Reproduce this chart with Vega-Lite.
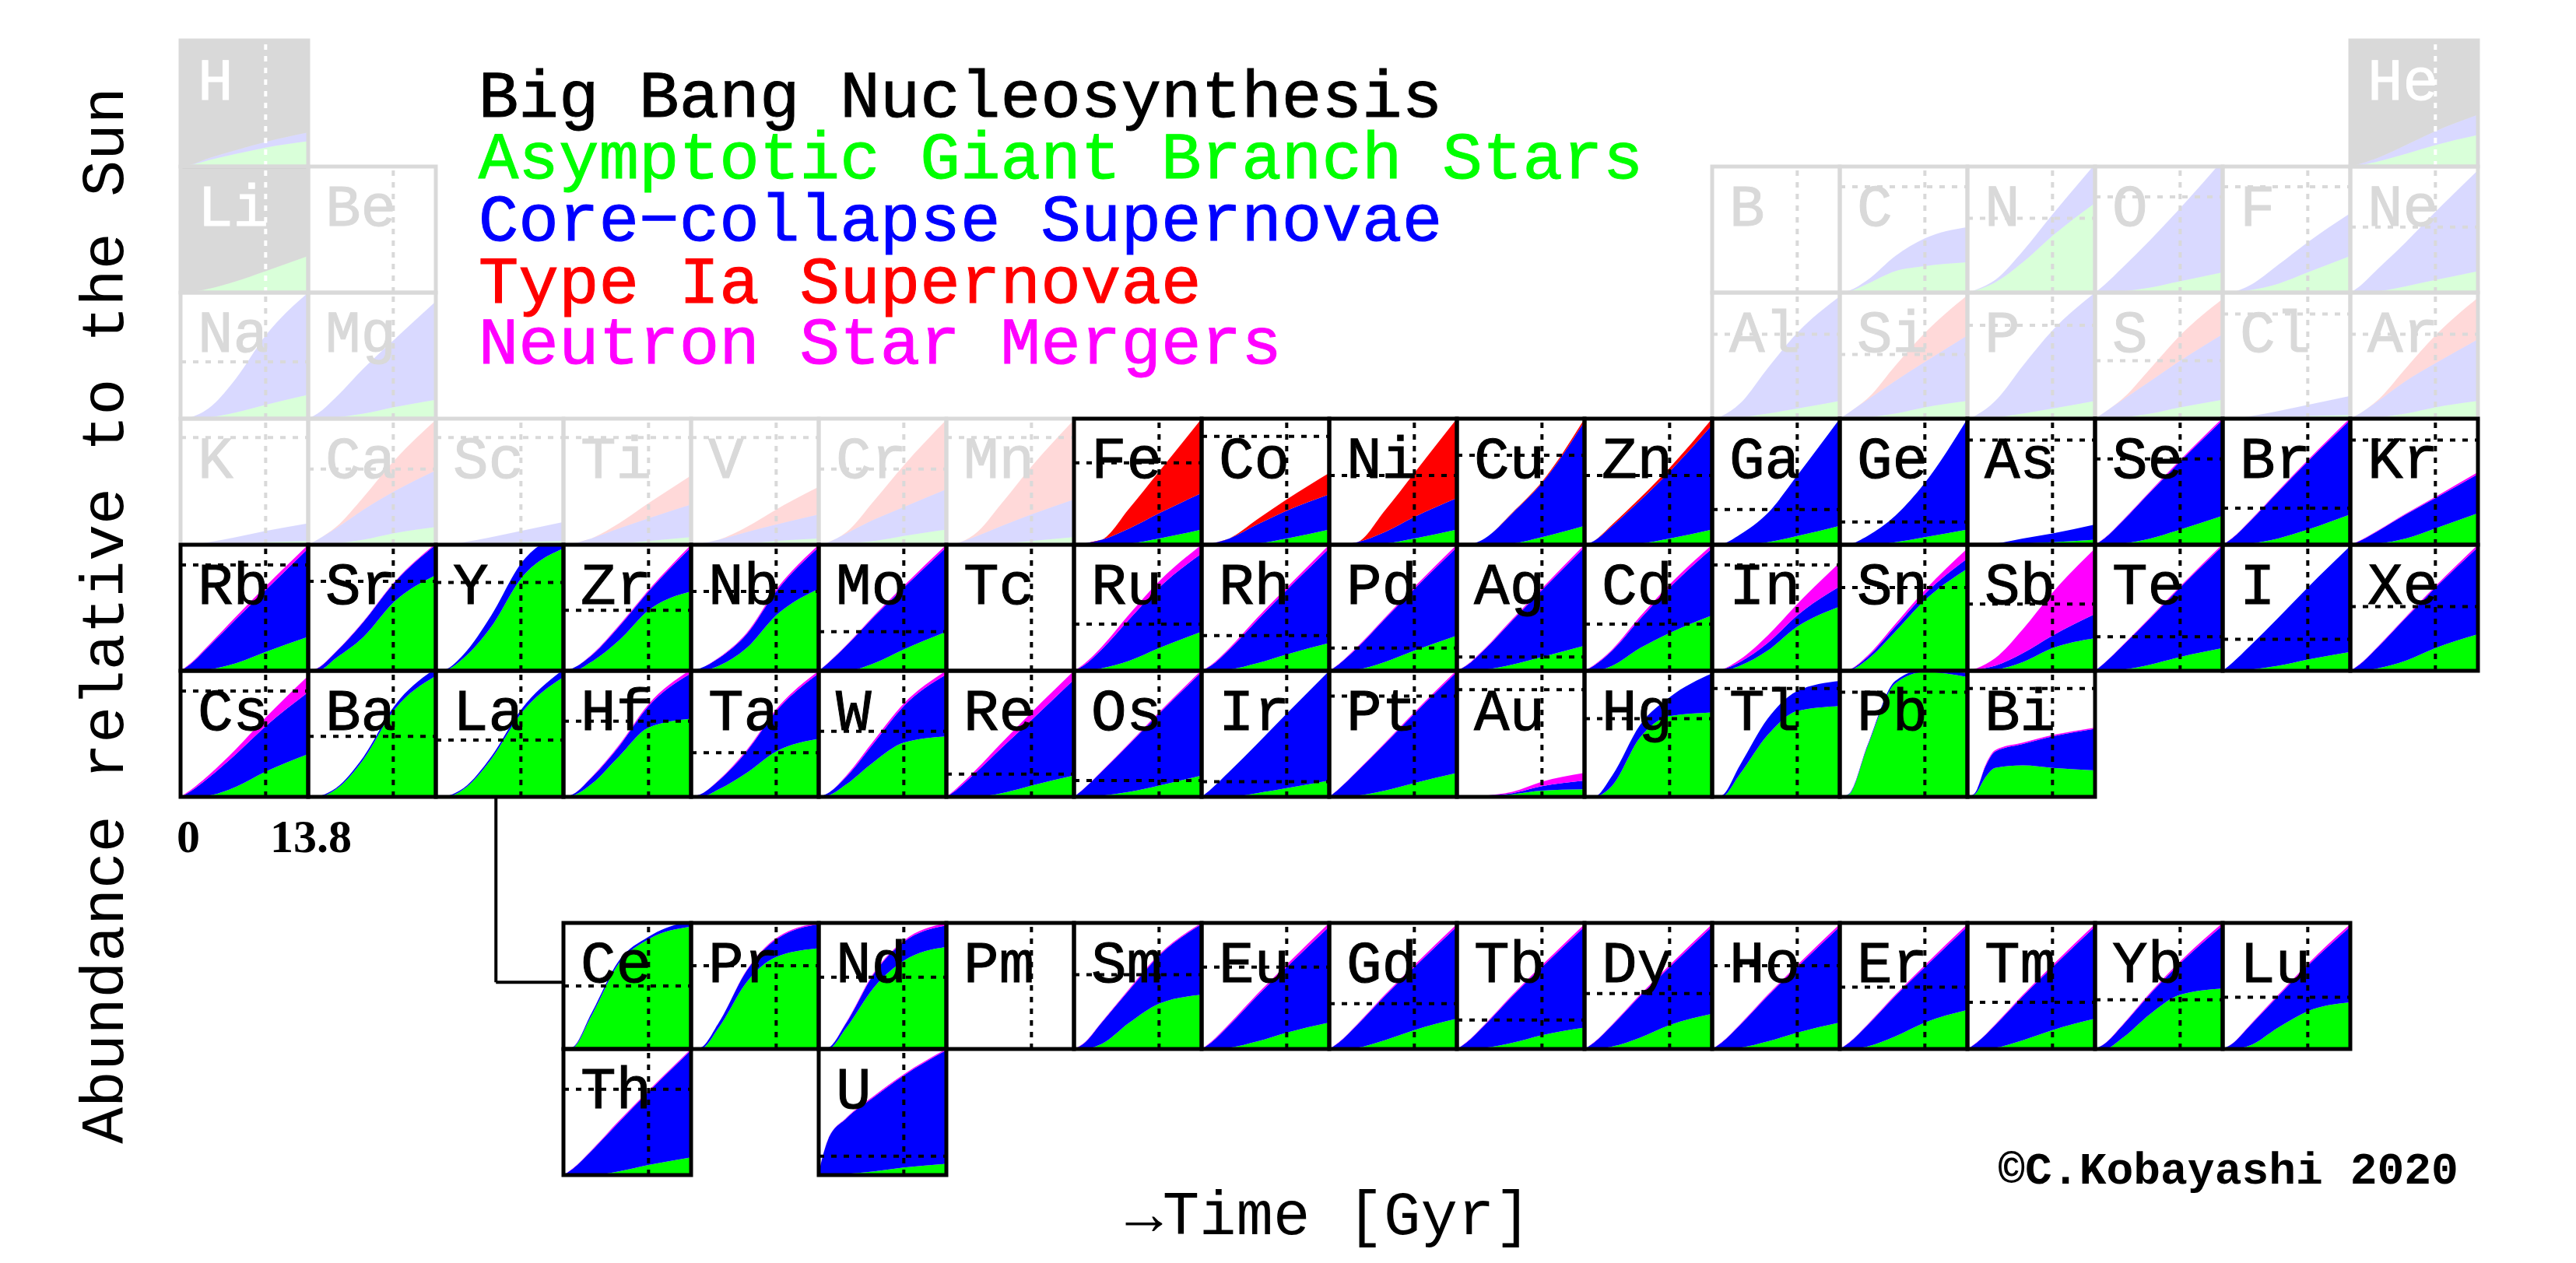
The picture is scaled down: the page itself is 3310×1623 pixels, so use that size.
{
  "$schema": "https://vega.github.io/schema/vega-lite/v6.json",
  "background": "white",
  "padding": {"left": 95, "top": 49, "right": 0, "bottom": 12},
  "bounds": "flush",
  "spacing": 0,
  "config": {"view": {"stroke": null}, "font": "Liberation Mono"},
  "data": {"values": [
    {"type":"cell","e":"H","g":1,"r":1,"k":"bbn","sun":null,"t":[0,1,3,6,9.2,13.8],"AGB":[0,0.01,0.05,0.1,0.15,0.2],"CCSN":[0,0.002,0.015,0.03,0.045,0.07],"Ia":[],"NSM":[],"bbn":[1,1,1,1,1,1]},
    {"type":"cell","e":"He","g":18,"r":1,"k":"bbn","sun":null,"t":[0,1,3,6,9.2,13.8],"AGB":[0,0.01,0.04,0.1,0.17,0.25],"CCSN":[0,0.01,0.03,0.07,0.11,0.16],"Ia":[],"NSM":[],"bbn":[1,1,1,1,1,1]},
    {"type":"cell","e":"Li","g":1,"r":2,"k":"bbn","sun":null,"t":[0,1,3,6,9.2,13.8],"AGB":[0,0.005,0.03,0.09,0.17,0.29],"CCSN":[],"Ia":[],"NSM":[],"bbn":[1,1,1,1,1,1]},
    {"type":"cell","e":"Be","g":2,"r":2,"k":"faded","sun":null,"t":[0,1,3,6,9.2,13.8],"AGB":[],"CCSN":[],"Ia":[],"NSM":[],"bbn":[]},
    {"type":"cell","e":"B","g":13,"r":2,"k":"faded","sun":null,"t":[0,1,3,6,9.2,13.8],"AGB":[],"CCSN":[],"Ia":[],"NSM":[],"bbn":[]},
    {"type":"cell","e":"C","g":14,"r":2,"k":"faded","sun":0.84,"t":[0,1,3,6,9.2,13.8],"AGB":[0,0.01,0.07,0.17,0.21,0.24],"CCSN":[0,0.005,0.03,0.12,0.22,0.28],"Ia":[],"NSM":[],"bbn":[]},
    {"type":"cell","e":"N","g":15,"r":2,"k":"faded","sun":0.59,"t":[0,1,3,6,9.2,13.8],"AGB":[0,0.02,0.08,0.24,0.45,0.71],"CCSN":[0,0.005,0.02,0.09,0.17,0.31],"Ia":[],"NSM":[],"bbn":[]},
    {"type":"cell","e":"O","g":16,"r":2,"k":"faded","sun":0.76,"t":[0,1,3,6,9.2,13.8],"AGB":[0,0,0.01,0.04,0.09,0.16],"CCSN":[0,0.06,0.19,0.38,0.58,0.89],"Ia":[],"NSM":[],"bbn":[]},
    {"type":"cell","e":"F","g":17,"r":2,"k":"faded","sun":0.84,"t":[0,1,3,6,9.2,13.8],"AGB":[0,0,0.02,0.07,0.16,0.29],"CCSN":[0,0.005,0.04,0.15,0.24,0.34],"Ia":[],"NSM":[],"bbn":[]},
    {"type":"cell","e":"Ne","g":18,"r":2,"k":"faded","sun":0.52,"t":[0,1,3,6,9.2,13.8],"AGB":[0,0,0.01,0.05,0.1,0.17],"CCSN":[0,0.05,0.18,0.35,0.54,0.8],"Ia":[],"NSM":[],"bbn":[]},
    {"type":"cell","e":"Na","g":1,"r":3,"k":"faded","sun":0.45,"t":[0,1,3,6,9.2,13.8],"AGB":[0,0,0.01,0.05,0.11,0.19],"CCSN":[0,0.01,0.07,0.27,0.55,0.81],"Ia":[],"NSM":[],"bbn":[]},
    {"type":"cell","e":"Mg","g":2,"r":3,"k":"faded","sun":null,"t":[0,1,3,6,9.2,13.8],"AGB":[0,0,0.01,0.04,0.09,0.15],"CCSN":[0,0.04,0.16,0.36,0.53,0.78],"Ia":[],"NSM":[],"bbn":[]},
    {"type":"cell","e":"Al","g":13,"r":3,"k":"faded","sun":0.67,"t":[0,1,3,6,9.2,13.8],"AGB":[0,0,0.01,0.04,0.08,0.14],"CCSN":[0,0.02,0.11,0.36,0.6,0.83],"Ia":[],"NSM":[],"bbn":[]},
    {"type":"cell","e":"Si","g":14,"r":3,"k":"faded","sun":0.51,"t":[0,1,3,6,9.2,13.8],"AGB":[0,0,0.01,0.04,0.09,0.14],"CCSN":[0,0.05,0.14,0.26,0.36,0.52],"Ia":[0,0,0.01,0.12,0.23,0.32],"NSM":[],"bbn":[]},
    {"type":"cell","e":"P","g":15,"r":3,"k":"faded","sun":0.74,"t":[0,1,3,6,9.2,13.8],"AGB":[0,0,0.01,0.04,0.08,0.14],"CCSN":[0,0.03,0.13,0.38,0.62,0.86],"Ia":[],"NSM":[],"bbn":[]},
    {"type":"cell","e":"S","g":16,"r":3,"k":"faded","sun":0.46,"t":[0,1,3,6,9.2,13.8],"AGB":[0,0,0.01,0.04,0.09,0.15],"CCSN":[0,0.05,0.14,0.26,0.37,0.52],"Ia":[0,0,0.01,0.1,0.2,0.28],"NSM":[],"bbn":[]},
    {"type":"cell","e":"Cl","g":17,"r":3,"k":"faded","sun":0.83,"t":[0,1,3,6,9.2,13.8],"AGB":[0,0,0,0.01,0.02,0.03],"CCSN":[0,0,0.02,0.05,0.09,0.15],"Ia":[],"NSM":[],"bbn":[]},
    {"type":"cell","e":"Ar","g":18,"r":3,"k":"faded","sun":0.67,"t":[0,1,3,6,9.2,13.8],"AGB":[0,0,0.01,0.04,0.09,0.14],"CCSN":[0,0.04,0.13,0.26,0.35,0.49],"Ia":[0,0,0.01,0.1,0.22,0.33],"NSM":[],"bbn":[]},
    {"type":"cell","e":"K","g":1,"r":4,"k":"faded","sun":0.85,"t":[0,1,3,6,9.2,13.8],"AGB":[0,0,0,0.01,0.02,0.03],"CCSN":[0,0,0.02,0.05,0.09,0.14],"Ia":[],"NSM":[],"bbn":[]},
    {"type":"cell","e":"Ca","g":2,"r":4,"k":"faded","sun":0.6,"t":[0,1,3,6,9.2,13.8],"AGB":[0,0,0.01,0.04,0.09,0.14],"CCSN":[0,0.04,0.12,0.24,0.33,0.45],"Ia":[0,0,0.01,0.1,0.24,0.4],"NSM":[],"bbn":[]},
    {"type":"cell","e":"Sc","g":3,"r":4,"k":"faded","sun":0.85,"t":[0,1,3,6,9.2,13.8],"AGB":[0,0,0,0.01,0.02,0.03],"CCSN":[0,0,0.02,0.05,0.09,0.15],"Ia":[],"NSM":[],"bbn":[]},
    {"type":"cell","e":"Ti","g":4,"r":4,"k":"faded","sun":0.85,"t":[0,1,3,6,9.2,13.8],"AGB":[0,0,0,0.01,0.03,0.06],"CCSN":[0,0.01,0.05,0.12,0.18,0.26],"Ia":[0,0,0,0.04,0.12,0.23],"NSM":[],"bbn":[]},
    {"type":"cell","e":"V","g":5,"r":4,"k":"faded","sun":0.85,"t":[0,1,3,6,9.2,13.8],"AGB":[0,0,0,0.01,0.03,0.05],"CCSN":[0,0.01,0.04,0.09,0.13,0.19],"Ia":[0,0,0,0.04,0.12,0.22],"NSM":[],"bbn":[]},
    {"type":"cell","e":"Cr","g":6,"r":4,"k":"faded","sun":0.6,"t":[0,1,3,6,9.2,13.8],"AGB":[0,0,0.01,0.03,0.07,0.12],"CCSN":[0,0.02,0.08,0.17,0.23,0.32],"Ia":[0,0,0.01,0.15,0.33,0.55],"NSM":[],"bbn":[]},
    {"type":"cell","e":"Mn","g":7,"r":4,"k":"faded","sun":0.85,"t":[0,1,3,6,9.2,13.8],"AGB":[0,0,0,0.01,0.03,0.06],"CCSN":[0,0.01,0.06,0.14,0.21,0.3],"Ia":[0,0,0.02,0.18,0.38,0.63],"NSM":[],"bbn":[]},
    {"type":"cell","e":"Fe","g":8,"r":4,"k":"main","sun":0.65,"t":[0,1,3,6,9.2,13.8],"AGB":[0,0,0,0.01,0.05,0.12],"CCSN":[0,0.01,0.04,0.12,0.2,0.29],"Ia":[0,0,0,0.16,0.33,0.59],"NSM":[],"bbn":[]},
    {"type":"cell","e":"Co","g":9,"r":4,"k":"main","sun":0.86,"t":[0,1,3,6,9.2,13.8],"AGB":[0,0,0,0.01,0.05,0.12],"CCSN":[0,0.01,0.05,0.15,0.22,0.28],"Ia":[0,0,0,0.04,0.09,0.17],"NSM":[],"bbn":[]},
    {"type":"cell","e":"Ni","g":10,"r":4,"k":"main","sun":0.55,"t":[0,1,3,6,9.2,13.8],"AGB":[0,0,0,0.01,0.05,0.12],"CCSN":[0,0,0.02,0.09,0.17,0.25],"Ia":[0,0,0,0.17,0.35,0.63],"NSM":[],"bbn":[]},
    {"type":"cell","e":"Cu","g":11,"r":4,"k":"main","sun":0.71,"t":[0,1,3,6,9.2,13.8],"AGB":[0,0,0,0.01,0.06,0.15],"CCSN":[0,0,0.05,0.24,0.43,0.83],"Ia":[0,0,0,0.005,0.01,0.02],"NSM":[],"bbn":[]},
    {"type":"cell","e":"Zn","g":12,"r":4,"k":"main","sun":0.55,"t":[0,1,3,6,9.2,13.8],"AGB":[0,0,0,0.01,0.05,0.12],"CCSN":[0,0.03,0.15,0.34,0.53,0.83],"Ia":[0,0,0.01,0.02,0.03,0.05],"NSM":[],"bbn":[]},
    {"type":"cell","e":"Ga","g":13,"r":4,"k":"main","sun":0.28,"t":[0,1,3,6,9.2,13.8],"AGB":[0,0,0,0.02,0.07,0.15],"CCSN":[0,0.005,0.08,0.23,0.48,0.85],"Ia":[],"NSM":[],"bbn":[]},
    {"type":"cell","e":"Ge","g":14,"r":4,"k":"main","sun":0.18,"t":[0,1,3,6,9.2,13.8],"AGB":[0,0,0,0.02,0.06,0.12],"CCSN":[0,0.005,0.07,0.21,0.43,0.88],"Ia":[],"NSM":[],"bbn":[]},
    {"type":"cell","e":"As","g":15,"r":4,"k":"main","sun":0.83,"t":[0,1,3,6,9.2,13.8],"AGB":[0,0,0,0.01,0.02,0.04],"CCSN":[0,0,0.01,0.04,0.07,0.12],"Ia":[],"NSM":[],"bbn":[]},
    {"type":"cell","e":"Se","g":16,"r":4,"k":"main","sun":0.68,"t":[0,1,3,6,9.2,13.8],"AGB":[0,0,0.01,0.05,0.12,0.23],"CCSN":[0,0.05,0.18,0.37,0.54,0.76],"Ia":[],"NSM":[0,0.002,0.005,0.008,0.012,0.015],"bbn":[]},
    {"type":"cell","e":"Br","g":17,"r":4,"k":"main","sun":0.29,"t":[0,1,3,6,9.2,13.8],"AGB":[0,0,0.01,0.05,0.12,0.24],"CCSN":[0,0.05,0.18,0.37,0.54,0.75],"Ia":[],"NSM":[0,0.002,0.005,0.008,0.012,0.015],"bbn":[]},
    {"type":"cell","e":"Kr","g":18,"r":4,"k":"main","sun":0.83,"t":[0,1,3,6,9.2,13.8],"AGB":[0,0,0.01,0.05,0.13,0.25],"CCSN":[0,0.03,0.1,0.19,0.24,0.31],"Ia":[],"NSM":[0,0.002,0.004,0.007,0.01,0.015],"bbn":[]},
    {"type":"cell","e":"Rb","g":1,"r":5,"k":"main","sun":0.84,"t":[0,1,3,6,9.2,13.8],"AGB":[0,0,0.01,0.06,0.15,0.27],"CCSN":[0,0.05,0.18,0.35,0.49,0.7],"Ia":[],"NSM":[0,0.005,0.01,0.02,0.03,0.03],"bbn":[]},
    {"type":"cell","e":"Sr","g":2,"r":5,"k":"main","sun":0.71,"t":[0,1,3,6,9.2,13.8],"AGB":[0,0,0.1,0.27,0.54,0.76],"CCSN":[0,0.02,0.05,0.12,0.15,0.24],"Ia":[],"NSM":[0,0.002,0.003,0.005,0.005,0.01],"bbn":[]},
    {"type":"cell","e":"Y","g":3,"r":5,"k":"main","sun":0.7,"t":[0,1,3,6,9.2,13.8],"AGB":[0,0.005,0.1,0.35,0.73,0.97],"CCSN":[0,0.005,0.03,0.09,0.12,0.12],"Ia":[],"NSM":[],"bbn":[]},
    {"type":"cell","e":"Zr","g":4,"r":5,"k":"main","sun":0.48,"t":[0,1,3,6,9.2,13.8],"AGB":[0,0,0.07,0.24,0.48,0.63],"CCSN":[0,0.02,0.05,0.11,0.15,0.35],"Ia":[],"NSM":[0,0,0.005,0.01,0.01,0.02],"bbn":[]},
    {"type":"cell","e":"Nb","g":5,"r":5,"k":"main","sun":0.63,"t":[0,1,3,6,9.2,13.8],"AGB":[0,0,0.04,0.18,0.44,0.65],"CCSN":[0,0.02,0.06,0.11,0.19,0.33],"Ia":[],"NSM":[0,0,0.005,0.01,0.015,0.02],"bbn":[]},
    {"type":"cell","e":"Mo","g":6,"r":5,"k":"main","sun":0.31,"t":[0,1,3,6,9.2,13.8],"AGB":[0,0,0,0.06,0.17,0.31],"CCSN":[0,0.06,0.2,0.37,0.49,0.67],"Ia":[],"NSM":[0,0.003,0.005,0.01,0.015,0.02],"bbn":[]},
    {"type":"cell","e":"Tc","g":7,"r":5,"k":"main","sun":null,"t":[0,1,3,6,9.2,13.8],"AGB":[],"CCSN":[],"Ia":[],"NSM":[],"bbn":[]},
    {"type":"cell","e":"Ru","g":8,"r":5,"k":"main","sun":0.37,"t":[0,1,3,6,9.2,13.8],"AGB":[0,0,0.02,0.08,0.18,0.31],"CCSN":[0,0.04,0.15,0.33,0.48,0.62],"Ia":[],"NSM":[0,0.01,0.02,0.04,0.05,0.07],"bbn":[]},
    {"type":"cell","e":"Rh","g":9,"r":5,"k":"main","sun":0.28,"t":[0,1,3,6,9.2,13.8],"AGB":[0,0,0.01,0.06,0.13,0.22],"CCSN":[0,0.04,0.16,0.34,0.51,0.75],"Ia":[],"NSM":[0,0.005,0.01,0.02,0.02,0.03],"bbn":[]},
    {"type":"cell","e":"Pd","g":10,"r":5,"k":"main","sun":0.18,"t":[0,1,3,6,9.2,13.8],"AGB":[0,0,0.01,0.07,0.16,0.28],"CCSN":[0,0.05,0.17,0.34,0.49,0.7],"Ia":[],"NSM":[0,0.003,0.008,0.01,0.015,0.02],"bbn":[]},
    {"type":"cell","e":"Ag","g":11,"r":5,"k":"main","sun":0.11,"t":[0,1,3,6,9.2,13.8],"AGB":[0,0,0.01,0.05,0.11,0.2],"CCSN":[0,0.04,0.16,0.35,0.53,0.78],"Ia":[],"NSM":[0,0.003,0.006,0.01,0.015,0.02],"bbn":[]},
    {"type":"cell","e":"Cd","g":12,"r":5,"k":"main","sun":0.37,"t":[0,1,3,6,9.2,13.8],"AGB":[0,0,0.04,0.18,0.3,0.44],"CCSN":[0,0.04,0.12,0.23,0.36,0.53],"Ia":[],"NSM":[0,0.005,0.01,0.02,0.025,0.03],"bbn":[]},
    {"type":"cell","e":"In","g":13,"r":5,"k":"main","sun":0.84,"t":[0,1,3,6,9.2,13.8],"AGB":[0,0,0.04,0.16,0.35,0.51],"CCSN":[0,0.01,0.03,0.06,0.09,0.16],"Ia":[],"NSM":[0,0,0.02,0.06,0.09,0.19],"bbn":[]},
    {"type":"cell","e":"Sn","g":14,"r":5,"k":"main","sun":0.66,"t":[0,1,3,6,9.2,13.8],"AGB":[0,0.005,0.09,0.31,0.56,0.81],"CCSN":[0,0.005,0.02,0.04,0.05,0.08],"Ia":[],"NSM":[0,0,0.01,0.02,0.03,0.08],"bbn":[]},
    {"type":"cell","e":"Sb","g":15,"r":5,"k":"main","sun":0.53,"t":[0,1,3,6,9.2,13.8],"AGB":[0,0,0.01,0.07,0.18,0.26],"CCSN":[0,0.01,0.03,0.07,0.1,0.19],"Ia":[],"NSM":[0,0.01,0.06,0.19,0.34,0.52],"bbn":[]},
    {"type":"cell","e":"Te","g":16,"r":5,"k":"main","sun":0.27,"t":[0,1,3,6,9.2,13.8],"AGB":[0,0,0.01,0.05,0.11,0.18],"CCSN":[0,0.06,0.19,0.37,0.55,0.81],"Ia":[],"NSM":[0,0.002,0.005,0.008,0.01,0.015],"bbn":[]},
    {"type":"cell","e":"I","g":17,"r":5,"k":"main","sun":0.25,"t":[0,1,3,6,9.2,13.8],"AGB":[0,0,0.01,0.04,0.09,0.15],"CCSN":[0,0.06,0.19,0.38,0.57,0.84],"Ia":[],"NSM":[],"bbn":[]},
    {"type":"cell","e":"Xe","g":18,"r":5,"k":"main","sun":0.51,"t":[0,1,3,6,9.2,13.8],"AGB":[0,0,0.02,0.08,0.18,0.29],"CCSN":[0,0.05,0.17,0.34,0.48,0.69],"Ia":[],"NSM":[0,0.002,0.005,0.008,0.012,0.02],"bbn":[]},
    {"type":"cell","e":"Cs","g":1,"r":6,"k":"main","sun":0.84,"t":[0,1,3,6,9.2,13.8],"AGB":[0,0,0.01,0.08,0.2,0.34],"CCSN":[0,0.04,0.14,0.26,0.36,0.49],"Ia":[],"NSM":[0,0.01,0.02,0.04,0.07,0.13],"bbn":[]},
    {"type":"cell","e":"Ba","g":2,"r":6,"k":"main","sun":0.48,"t":[0,1,3,6,9.2,13.8],"AGB":[0,0,0.06,0.3,0.68,0.96],"CCSN":[0,0.005,0.01,0.02,0.03,0.06],"Ia":[],"NSM":[],"bbn":[]},
    {"type":"cell","e":"La","g":3,"r":6,"k":"main","sun":0.45,"t":[0,1,3,6,9.2,13.8],"AGB":[0,0,0.06,0.3,0.66,0.95],"CCSN":[0,0.005,0.01,0.02,0.03,0.06],"Ia":[],"NSM":[],"bbn":[]},
    {"type":"cell","e":"Hf","g":4,"r":6,"k":"main","sun":0.6,"t":[0,1,3,6,9.2,13.8],"AGB":[0,0.01,0.1,0.32,0.55,0.62],"CCSN":[0,0.01,0.05,0.08,0.17,0.36],"Ia":[],"NSM":[0,0,0.005,0.01,0.015,0.03],"bbn":[]},
    {"type":"cell","e":"Ta","g":5,"r":6,"k":"main","sun":0.35,"t":[0,1,3,6,9.2,13.8],"AGB":[0,0,0.06,0.19,0.36,0.46],"CCSN":[0,0.02,0.07,0.17,0.32,0.52],"Ia":[],"NSM":[0,0,0.005,0.01,0.015,0.02],"bbn":[]},
    {"type":"cell","e":"W","g":6,"r":6,"k":"main","sun":0.52,"t":[0,1,3,6,9.2,13.8],"AGB":[0,0.01,0.1,0.28,0.43,0.48],"CCSN":[0,0.02,0.06,0.15,0.29,0.49],"Ia":[],"NSM":[0,0,0.01,0.02,0.02,0.03],"bbn":[]},
    {"type":"cell","e":"Re","g":7,"r":6,"k":"main","sun":0.18,"t":[0,1,3,6,9.2,13.8],"AGB":[0,0,0,0.03,0.09,0.17],"CCSN":[0,0.05,0.18,0.36,0.52,0.76],"Ia":[],"NSM":[0,0.01,0.02,0.04,0.06,0.07],"bbn":[]},
    {"type":"cell","e":"Os","g":8,"r":6,"k":"main","sun":0.13,"t":[0,1,3,6,9.2,13.8],"AGB":[0,0,0.01,0.04,0.09,0.17],"CCSN":[0,0.06,0.19,0.38,0.57,0.82],"Ia":[],"NSM":[0,0.002,0.005,0.008,0.012,0.015],"bbn":[]},
    {"type":"cell","e":"Ir","g":9,"r":6,"k":"main","sun":0.12,"t":[0,1,3,6,9.2,13.8],"AGB":[0,0,0,0.03,0.07,0.13],"CCSN":[0,0.06,0.2,0.39,0.59,0.87],"Ia":[],"NSM":[],"bbn":[]},
    {"type":"cell","e":"Pt","g":10,"r":6,"k":"main","sun":0.8,"t":[0,1,3,6,9.2,13.8],"AGB":[0,0,0.01,0.05,0.11,0.19],"CCSN":[0,0.06,0.19,0.37,0.55,0.8],"Ia":[],"NSM":[0,0.002,0.005,0.008,0.012,0.015],"bbn":[]},
    {"type":"cell","e":"Au","g":11,"r":6,"k":"main","sun":0.85,"t":[0,1,3,6,9.2,13.8],"AGB":[0,0,0,0.02,0.05,0.06],"CCSN":[0,0,0.01,0.01,0.035,0.07],"Ia":[],"NSM":[0,0,0,0.01,0.035,0.06],"bbn":[]},
    {"type":"cell","e":"Hg","g":12,"r":6,"k":"main","sun":0.62,"t":[0,1,3,6,9.2,13.8],"AGB":[0,0,0.09,0.47,0.64,0.67],"CCSN":[0,0,0.08,0.1,0.15,0.31],"Ia":[],"NSM":[],"bbn":[]},
    {"type":"cell","e":"Tl","g":13,"r":6,"k":"main","sun":0.86,"t":[0,1,3,6,9.2,13.8],"AGB":[0,0,0.18,0.49,0.68,0.72],"CCSN":[0,0.01,0.07,0.13,0.16,0.2],"Ia":[],"NSM":[],"bbn":[]},
    {"type":"cell","e":"Pb","g":14,"r":6,"k":"main","sun":0.83,"t":[0,1,3,6,9.2,13.8],"AGB":[0,0.02,0.4,0.9,0.99,0.95],"CCSN":[0,0.005,0.01,0.02,0.02,0.03],"Ia":[],"NSM":[],"bbn":[]},
    {"type":"cell","e":"Bi","g":15,"r":6,"k":"main","sun":0.86,"t":[0,0.8,2,3,6,9.2,13.8],"AGB":[0,0.02,0.16,0.23,0.25,0.23,0.21],"CCSN":[0,0.01,0.09,0.13,0.17,0.25,0.33],"Ia":[],"NSM":[0,0,0.01,0.01,0.01,0.01,0.01],"bbn":[]},
    {"type":"cell","e":"Ce","g":4,"r":8,"k":"main","sun":0.5,"t":[0,1,3,6,9.2,13.8],"AGB":[0,0.01,0.26,0.68,0.87,0.97],"CCSN":[0,0.005,0.02,0.02,0.02,0.05],"Ia":[],"NSM":[],"bbn":[]},
    {"type":"cell","e":"Pr","g":5,"r":8,"k":"main","sun":0.66,"t":[0,1,3,6,9.2,13.8],"AGB":[0,0,0.17,0.53,0.73,0.8],"CCSN":[0,0.01,0.04,0.09,0.14,0.19],"Ia":[],"NSM":[0,0,0,0.005,0.01,0.01],"bbn":[]},
    {"type":"cell","e":"Nd","g":6,"r":8,"k":"main","sun":0.57,"t":[0,1,3,6,9.2,13.8],"AGB":[0,0,0.17,0.49,0.7,0.81],"CCSN":[0,0.01,0.04,0.11,0.15,0.17],"Ia":[],"NSM":[0,0,0.005,0.01,0.01,0.02],"bbn":[]},
    {"type":"cell","e":"Pm","g":7,"r":8,"k":"main","sun":null,"t":[0,1,3,6,9.2,13.8],"AGB":[],"CCSN":[],"Ia":[],"NSM":[],"bbn":[]},
    {"type":"cell","e":"Sm","g":8,"r":8,"k":"main","sun":0.59,"t":[0,1,3,6,9.2,13.8],"AGB":[0,0,0.04,0.21,0.36,0.43],"CCSN":[0,0.04,0.17,0.26,0.38,0.56],"Ia":[],"NSM":[0,0.003,0.005,0.01,0.01,0.01],"bbn":[]},
    {"type":"cell","e":"Eu","g":9,"r":8,"k":"main","sun":0.65,"t":[0,1,3,6,9.2,13.8],"AGB":[0,0,0.01,0.06,0.13,0.21],"CCSN":[0,0.05,0.18,0.36,0.52,0.76],"Ia":[],"NSM":[0,0.005,0.01,0.015,0.02,0.03],"bbn":[]},
    {"type":"cell","e":"Gd","g":10,"r":8,"k":"main","sun":0.36,"t":[0,1,3,6,9.2,13.8],"AGB":[0,0,0.01,0.07,0.15,0.24],"CCSN":[0,0.05,0.18,0.35,0.5,0.73],"Ia":[],"NSM":[0,0.002,0.005,0.01,0.015,0.02],"bbn":[]},
    {"type":"cell","e":"Tb","g":11,"r":8,"k":"main","sun":0.23,"t":[0,1,3,6,9.2,13.8],"AGB":[0,0,0.01,0.05,0.11,0.17],"CCSN":[0,0.05,0.18,0.37,0.54,0.8],"Ia":[],"NSM":[0,0.002,0.005,0.01,0.015,0.02],"bbn":[]},
    {"type":"cell","e":"Dy","g":12,"r":8,"k":"main","sun":0.44,"t":[0,1,3,6,9.2,13.8],"AGB":[0,0,0.02,0.09,0.19,0.28],"CCSN":[0,0.05,0.17,0.33,0.46,0.69],"Ia":[],"NSM":[0,0.002,0.005,0.01,0.015,0.02],"bbn":[]},
    {"type":"cell","e":"Ho","g":13,"r":8,"k":"main","sun":0.66,"t":[0,1,3,6,9.2,13.8],"AGB":[0,0,0.01,0.06,0.13,0.21],"CCSN":[0,0.05,0.18,0.36,0.52,0.76],"Ia":[],"NSM":[0,0.002,0.005,0.01,0.015,0.02],"bbn":[]},
    {"type":"cell","e":"Er","g":14,"r":8,"k":"main","sun":0.49,"t":[0,1,3,6,9.2,13.8],"AGB":[0,0,0.02,0.1,0.21,0.31],"CCSN":[0,0.05,0.17,0.32,0.44,0.66],"Ia":[],"NSM":[0,0.002,0.005,0.01,0.015,0.02],"bbn":[]},
    {"type":"cell","e":"Tm","g":15,"r":8,"k":"main","sun":0.37,"t":[0,1,3,6,9.2,13.8],"AGB":[0,0,0.01,0.07,0.15,0.24],"CCSN":[0,0.05,0.18,0.35,0.5,0.73],"Ia":[],"NSM":[0,0.002,0.005,0.01,0.015,0.02],"bbn":[]},
    {"type":"cell","e":"Yb","g":16,"r":8,"k":"main","sun":0.39,"t":[0,1,3,6,9.2,13.8],"AGB":[0,0,0.09,0.28,0.43,0.48],"CCSN":[0,0.04,0.1,0.16,0.25,0.5],"Ia":[],"NSM":[0,0.002,0.005,0.01,0.015,0.02],"bbn":[]},
    {"type":"cell","e":"Lu","g":17,"r":8,"k":"main","sun":0.41,"t":[0,1,3,6,9.2,13.8],"AGB":[0,0,0.03,0.17,0.3,0.37],"CCSN":[0,0.04,0.16,0.25,0.36,0.6],"Ia":[],"NSM":[0,0.002,0.005,0.01,0.015,0.02],"bbn":[]},
    {"type":"cell","e":"Th","g":4,"r":9,"k":"main","sun":0.68,"t":[0,1,3,6,9.2,13.8],"AGB":[0,0,0,0.03,0.08,0.14],"CCSN":[0,0.05,0.19,0.39,0.58,0.85],"Ia":[],"NSM":[0,0.002,0.005,0.01,0.01,0.01],"bbn":[]},
    {"type":"cell","e":"U","g":6,"r":9,"k":"main","sun":0.15,"t":[0,1,3,6,9.2,13.8],"AGB":[0,0,0.01,0.03,0.06,0.09],"CCSN":[0.02,0.28,0.44,0.59,0.73,0.9],"Ia":[],"NSM":[0,0.002,0.005,0.01,0.01,0.01],"bbn":[]},
    {"type":"key","g":3,"r":1,"c":"bbn","text":"Big Bang Nucleosynthesis","x":4.6,"y":0.395,"t":[0],"AGB":[],"CCSN":[],"Ia":[],"NSM":[],"bbn":[]},
    {"type":"key","g":3,"r":1,"c":"AGB","text":"Asymptotic Giant Branch Stars","x":4.6,"y":-0.093,"t":[0],"AGB":[],"CCSN":[],"Ia":[],"NSM":[],"bbn":[]},
    {"type":"key","g":3,"r":1,"c":"CCSN","text":"Core−collapse Supernovae","x":4.6,"y":-0.586,"t":[0],"AGB":[],"CCSN":[],"Ia":[],"NSM":[],"bbn":[]},
    {"type":"key","g":3,"r":1,"c":"Ia","text":"Type Ia Supernovae","x":4.6,"y":-1.08,"t":[0],"AGB":[],"CCSN":[],"Ia":[],"NSM":[],"bbn":[]},
    {"type":"key","g":3,"r":1,"c":"NSM","text":"Neutron Star Mergers","x":4.6,"y":-1.56,"t":[0],"AGB":[],"CCSN":[],"Ia":[],"NSM":[],"bbn":[]},
    {"type":"tick","g":1,"r":7,"text":"0","x":0.84,"y":0.56,"t":[0],"AGB":[],"CCSN":[],"Ia":[],"NSM":[],"bbn":[]},
    {"type":"tick","g":1,"r":7,"text":"13.8","x":14.1,"y":0.56,"t":[0],"AGB":[],"CCSN":[],"Ia":[],"NSM":[],"bbn":[]},
    {"type":"link","g":3,"r":7,"x":6.5,"x2":6.5,"y":1,"y2":-0.47,"t":[0],"AGB":[],"CCSN":[],"Ia":[],"NSM":[],"bbn":[]},
    {"type":"link","g":3,"r":7,"x":6.5,"x2":13.8,"y":-0.47,"y2":-0.47,"t":[0],"AGB":[],"CCSN":[],"Ia":[],"NSM":[],"bbn":[]},
    {"type":"credit","g":15,"r":9,"text":"©C.Kobayashi 2020","x":3.3,"y":-0.07,"t":[0],"AGB":[],"CCSN":[],"Ia":[],"NSM":[],"bbn":[]}
  ]},
  "transform": [
    {"flatten": ["t", "AGB", "CCSN", "Ia", "NSM", "bbn"]},
    {"fold": ["AGB", "CCSN", "Ia", "NSM", "bbn"], "as": ["src", "v"]},
    {"stack": "v", "groupby": ["g", "r", "t"], "sort": [{"field": "src", "order": "ascending"}], "as": ["v0", "v1"]}
  ],
  "facet": {
    "row": {
      "field": "r", "type": "ordinal", "title": "Abundance relative to the Sun",
      "header": {"labels": false, "titleFont": "Liberation Mono", "titleFontSize": 78, "titleFontWeight": "normal", "titleColor": "black", "titlePadding": 48}
    },
    "column": {
      "field": "g", "type": "ordinal", "title": "→Time [Gyr]",
      "header": {"labels": false, "titleOrient": "bottom", "titleFont": "Liberation Mono", "titleFontSize": 79, "titleFontWeight": "normal", "titleColor": "black", "titlePadding": 4}
    }
  },
  "spec": {
    "width": 164,
    "height": 162,
    "layer": [
      {
        "mark": {"type": "area", "clip": true, "interpolate": "monotone"},
        "encoding": {
          "x": {"field": "t", "type": "quantitative", "scale": {"domain": [0, 13.8], "nice": false, "zero": false}, "axis": null},
          "y": {"field": "v0", "type": "quantitative", "scale": {"domain": [0, 1], "nice": false, "zero": false}, "axis": null},
          "y2": {"field": "v1"},
          "color": {"field": "src", "type": "nominal", "scale": {"domain": ["AGB", "CCSN", "Ia", "NSM", "bbn"], "range": ["#00ff00", "#0000ff", "#ff0000", "#ff00ff", "#000000"]}, "legend": null},
          "opacity": {"condition": {"test": "datum.k != 'main'", "value": 0.15}, "value": 1}
        }
      },
      {
        "transform": [{"filter": "datum.type == 'cell' && datum.src == 'AGB' && datum.t == 0"}],
        "mark": {"type": "rule", "strokeDash": [7, 8], "strokeWidth": 4},
        "encoding": {
          "x": {"datum": 9.2, "type": "quantitative", "axis": null},
          "y": {"datum": 0, "type": "quantitative", "axis": null},
          "y2": {"datum": 1},
          "color": {"condition": [{"test": "datum.k == 'main'", "value": "black"}, {"test": "datum.k == 'bbn'", "value": "white"}], "value": "#d9d9d9"}
        }
      },
      {
        "transform": [{"filter": "datum.type == 'cell' && datum.src == 'AGB' && datum.t == 0 && isValid(datum.sun)"}],
        "mark": {"type": "rule", "strokeDash": [7, 9], "strokeWidth": 4},
        "encoding": {
          "x": {"datum": 0, "type": "quantitative", "axis": null},
          "x2": {"datum": 13.8},
          "y": {"field": "sun", "type": "quantitative", "axis": null},
          "color": {"condition": [{"test": "datum.k == 'main'", "value": "black"}, {"test": "datum.k == 'bbn'", "value": "white"}], "value": "#d9d9d9"}
        }
      },
      {
        "transform": [{"filter": "datum.type == 'cell' && datum.src == 'AGB' && datum.t == 0"}],
        "mark": {"type": "text", "align": "left", "baseline": "alphabetic", "font": "Liberation Mono", "fontSize": 76, "fontWeight": "normal", "strokeWidth": 1},
        "encoding": {
          "x": {"datum": 1.85, "type": "quantitative", "axis": null},
          "y": {"datum": 0.53, "type": "quantitative", "axis": null},
          "text": {"field": "e"},
          "color": {"condition": [{"test": "datum.k == 'main'", "value": "black"}, {"test": "datum.k == 'bbn'", "value": "white"}], "value": "#d9d9d9"},
          "stroke": {"condition": [{"test": "datum.k == 'main'", "value": "black"}, {"test": "datum.k == 'bbn'", "value": "white"}], "value": "#d9d9d9"}
        }
      },
      {
        "transform": [{"filter": "datum.type == 'cell' && datum.src == 'AGB' && datum.t == 0"}],
        "mark": {"type": "rect", "filled": false, "strokeWidth": 5},
        "encoding": {
          "x": {"datum": 0, "type": "quantitative", "axis": null},
          "x2": {"datum": 13.8},
          "y": {"datum": 0, "type": "quantitative", "axis": null},
          "y2": {"datum": 1},
          "color": {"condition": {"test": "datum.k == 'main'", "value": "black"}, "value": "#d9d9d9"}
        }
      },
      {
        "transform": [{"filter": "datum.type == 'key' && datum.src == 'AGB'"}],
        "mark": {"type": "text", "align": "left", "baseline": "alphabetic", "font": "Liberation Mono", "fontSize": 86, "fontWeight": "normal", "strokeWidth": 1},
        "encoding": {
          "x": {"field": "x", "type": "quantitative", "axis": null},
          "y": {"field": "y", "type": "quantitative", "axis": null},
          "text": {"field": "text"},
          "color": {"field": "c", "type": "nominal", "legend": null},
          "stroke": {"field": "c", "type": "nominal", "scale": {"domain": ["AGB", "CCSN", "Ia", "NSM", "bbn"], "range": ["#00ff00", "#0000ff", "#ff0000", "#ff00ff", "#000000"]}, "legend": null}
        }
      },
      {
        "transform": [{"filter": "datum.type == 'tick' && datum.src == 'AGB'"}],
        "mark": {"type": "text", "align": "center", "baseline": "alphabetic", "font": "Liberation Serif", "fontSize": 60, "fontWeight": "bold", "color": "black"},
        "encoding": {
          "x": {"field": "x", "type": "quantitative", "axis": null},
          "y": {"field": "y", "type": "quantitative", "axis": null},
          "text": {"field": "text"}
        }
      },
      {
        "transform": [{"filter": "datum.type == 'credit' && datum.src == 'AGB'"}],
        "mark": {"type": "text", "align": "left", "baseline": "alphabetic", "font": "Liberation Mono", "fontSize": 58, "fontWeight": "bold", "color": "black"},
        "encoding": {
          "x": {"field": "x", "type": "quantitative", "axis": null},
          "y": {"field": "y", "type": "quantitative", "axis": null},
          "text": {"field": "text"}
        }
      },
      {
        "transform": [{"filter": "datum.type == 'link' && datum.src == 'AGB'"}],
        "mark": {"type": "rule", "strokeWidth": 4, "color": "black"},
        "encoding": {
          "x": {"field": "x", "type": "quantitative", "axis": null},
          "x2": {"field": "x2"},
          "y": {"field": "y", "type": "quantitative", "axis": null},
          "y2": {"field": "y2"}
        }
      }
    ]
  }
}
